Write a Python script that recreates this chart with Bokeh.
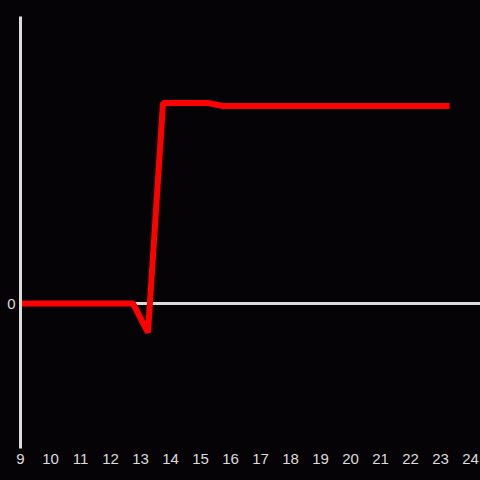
from bokeh.plotting import figure
from bokeh.models import FixedTicker, Span
from bokeh.embed import file_html
from bokeh.resources import INLINE

x_vals = [9, 12.75, 13.25, 13.75, 15.25, 15.75, 23.3]
y_vals = [0, 0, -29, 200.5, 200.5, 197.5, 197.5]
x_ticks = list(range(9, 25))
y_ticks = [0]

BG = "#060307"
FG = "#dcdcdc"

p = figure(width=480, height=480, output_backend="svg", toolbar_location=None,
           x_range=(9, 9 + 460 / 30), y_range=(-145, 287),
           background_fill_color=BG, border_fill_color=BG, outline_line_color=None,
           min_border_left=20, min_border_right=0, min_border_top=16, min_border_bottom=32)

p.xgrid.visible = False
p.ygrid.visible = False

p.xaxis.ticker = FixedTicker(ticks=x_ticks)
p.yaxis.ticker = FixedTicker(ticks=y_ticks)
p.xaxis.axis_line_color = None
p.yaxis.axis_line_color = FG
p.yaxis.axis_line_width = 3
for ax in (p.xaxis, p.yaxis):
    ax.major_tick_line_color = None
    ax.minor_tick_line_color = None
    ax.major_tick_out = 0
    ax.major_tick_in = 0
    ax.minor_tick_out = 0
    ax.major_label_text_color = FG
    ax.major_label_text_font = "Liberation Sans"
    ax.major_label_text_font_size = "15px"
p.yaxis.major_label_standoff = 5
p.xaxis.major_label_standoff = 5

p.add_layout(Span(location=0, dimension="width", line_color=FG, line_width=3, level="underlay"))

p.line(x_vals, y_vals, line_color="#ff0000", line_width=6)

html = file_html(p, INLINE)
html = html.replace("<head>", "<head><style>html,body{margin:0;padding:0;background:#060307;}</style>", 1)
open("out.html", "w").write(html)
